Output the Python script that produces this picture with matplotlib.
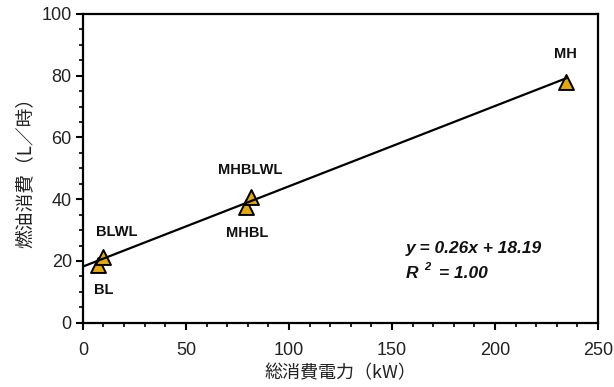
import numpy as np
import matplotlib
matplotlib.use("Agg")
import matplotlib.pyplot as plt

plt.rcParams['font.family'] = ['Liberation Sans', 'Noto Sans CJK JP', 'DejaVu Sans']

# Operating modes: total power consumption (kW) vs fuel consumption (L/h)
modes = ["BL", "BLWL", "MHBL", "MHBLWL", "MH"]
power_kw = [7.3, 9.8, 79.0, 81.4, 234.3]
fuel_lph = [18.7, 21.4, 37.6, 40.8, 78.0]

# Regression shown on the chart
slope = 0.26
intercept = 18.19
r_squared = 1.00

# label offsets (points) relative to each marker
label_offsets = {
    "BL": (4, -18),
    "BLWL": (10, 18),
    "MHBL": (1, -19),
    "MHBLWL": (0, 19),
    "MH": (0, 20),
}

fig = plt.figure(figsize=(6.14, 3.87), dpi=100)
ax = fig.add_axes([0.135, 0.166, 0.839, 0.798])

x_line = np.array([0, max(power_kw)])
ax.scatter(power_kw, fuel_lph, marker='^', s=115, facecolor='#E2A80C',
           edgecolor='black', linewidths=1.4, zorder=3)
ax.plot(x_line, slope * x_line + intercept, color='black', lw=1.6, zorder=4)

for name, xv, yv in zip(modes, power_kw, fuel_lph):
    dx, dy = label_offsets[name]
    ax.annotate(name, (xv, yv), xytext=(dx, dy), textcoords='offset points',
                ha='center', va='center', fontsize=10.5, fontweight='bold',
                color='#111111')

eq_style = dict(fontweight='bold', fontstyle='italic', va='center', ha='left',
                color='#111111')
ax.text(156.8, 24.1, f"y = {slope:.2f}x + {intercept:.2f}", fontsize=12.5, **eq_style)
ax.text(156.8, 16.0, "R", fontsize=12.5, **eq_style)
ax.text(165.5, 18.0, "2", fontsize=8, **eq_style)
ax.text(172.8, 16.0, f"= {r_squared:.2f}", fontsize=12.5, **eq_style)

ax.set_xlim(0, 250)
ax.set_ylim(0, 100)
ax.set_xticks(np.arange(0, 251, 50))
ax.set_xticks(np.arange(0, 251, 10), minor=True)
ax.set_yticks(np.arange(0, 101, 20))
ax.set_yticks(np.arange(0, 101, 5), minor=True)
ax.tick_params(axis='both', which='major', direction='out', length=5, width=1.5,
               labelsize=13, labelcolor='#222222')
ax.tick_params(axis='x', which='major', pad=9)
ax.tick_params(axis='y', which='major', pad=3)
ax.tick_params(axis='both', which='minor', direction='out', length=3, width=1.2)
ax.tick_params(top=False, right=False)
for sp in ax.spines.values():
    sp.set_linewidth(1.6)

ax.set_xlabel("総消費電力（kW）", fontsize=13, family=['Noto Sans CJK JP'],
              labelpad=4, color='#222222')
ax.set_ylabel("燃油消費（L／時）", fontsize=13.5, family=['Noto Sans CJK JP'],
              labelpad=4, color='#222222')

fig.savefig("out.png", dpi=100)
